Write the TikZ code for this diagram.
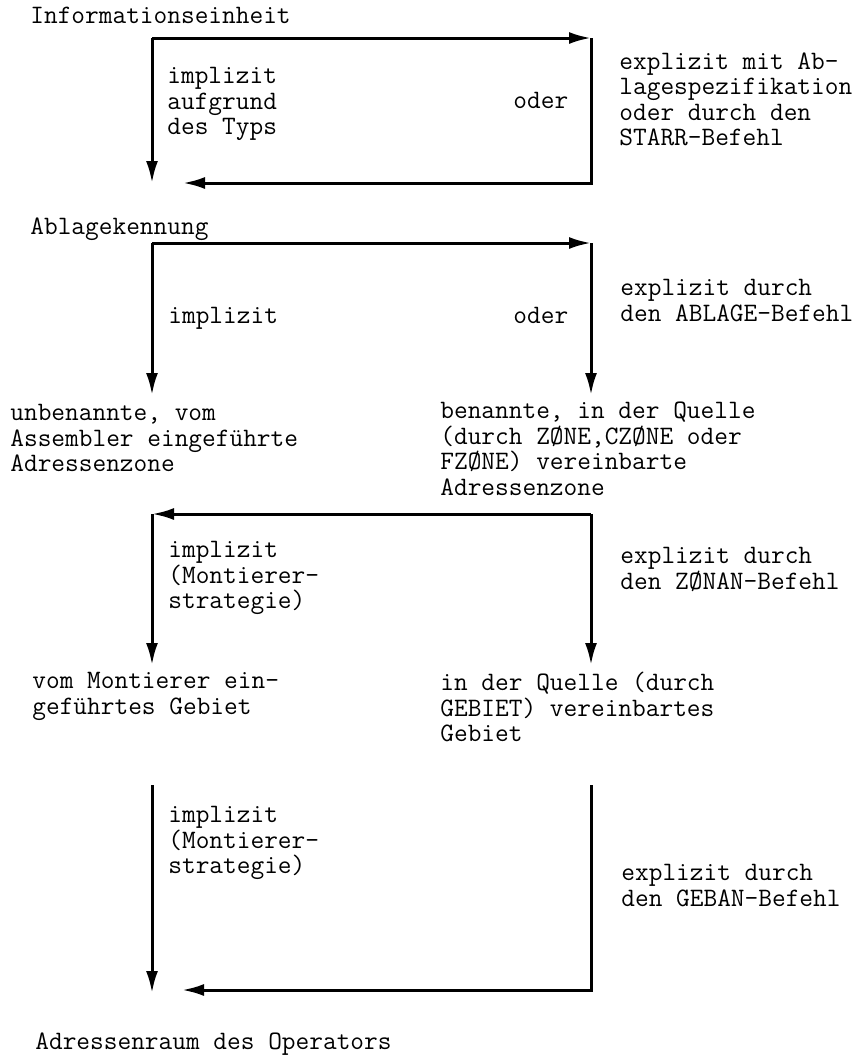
\documentclass[tikz,border=0pt]{standalone}
\usepackage{fontspec}
\usepackage{tikz}
\usetikzlibrary{arrows.meta}

\begin{document}
\begin{tikzpicture}[x=0.5pt, y=-0.5pt,
    txt/.style={anchor=north west, inner sep=0pt, align=left,
        font=\ttfamily\fontsize{13.3}{12.75}\selectfont},
    arr/.style={line width=1.5pt, -{Latex[length=11pt,width=6pt]}}]
    \useasboundingbox (0,0) rectangle (866,1056);

    % Informationseinheit -> Ablagekennung
    \node[txt] (info) at (30,7) {Informationseinheit};
    \coordinate (s1tl) at (152,38);
    \coordinate (s1tr) at (591,38);
    \coordinate (s1br) at (591,183);
    \coordinate (s1l) at (152,183);
    \coordinate (s1b) at (183,183);
    \draw[arr] (s1tl) -- (s1l);
    \draw[arr] (s1tl) -- (s1tr);
    \draw[arr] (s1tr) -- (s1br) -- (s1b);
    \node[txt] (impl1) at (167,67) {implizit\\aufgrund\\des Typs};
    \node[txt] (oder1) at (513,92) {oder};
    \node[txt] (expl1) at (619,52) {explizit mit Ab-\\lagespezifikation\\oder durch den\\STARR-Befehl};

    % Ablagekennung -> Adressenzone
    \node[txt] (ablage) at (30,217) {Ablagekennung};
    \coordinate (s2tl) at (152,243);
    \coordinate (s2tr) at (591,243);
    \coordinate (s2l) at (152,395);
    \coordinate (s2r) at (591,395);
    \draw[arr] (s2tl) -- (s2l);
    \draw[arr] (s2tl) -- (s2tr);
    \draw[arr] (s2tr) -- (s2r);
    \node[txt] (impl2) at (168,307) {implizit};
    \node[txt] (oder2) at (513,307) {oder};
    \node[txt] (expl2) at (620,279) {explizit durch\\den ABLAGE-Befehl};
    \node[txt] (zoneu) at (10,404) {unbenannte, vom\\Assembler eingeführte\\Adressenzone};
    \node[txt] (zoneb) at (440,402) {benannte, in der Quelle\\(durch ZØNE,CZØNE oder\\FZØNE) vereinbarte\\Adressenzone};

    % Adressenzone -> Gebiet
    \coordinate (s3tl) at (152,514);
    \coordinate (s3tr) at (591,514);
    \coordinate (s3l) at (152,665);
    \coordinate (s3r) at (591,665);
    \draw[arr] (s3tr) -- (s3tl);
    \draw[arr] (s3tl) -- (s3l);
    \draw[arr] (s3tr) -- (s3r);
    \node[txt] (impl3) at (168,541) {implizit\\(Montierer-\\strategie)};
    \node[txt] (expl3) at (620,547) {explizit durch\\den ZØNAN-Befehl};
    \node[txt] (gebm) at (32,672) {vom Montierer ein-\\geführtes Gebiet};
    \node[txt] (gebq) at (440,672) {in der Quelle (durch\\GEBIET) vereinbartes\\Gebiet};

    % Gebiet -> Adressenraum
    \coordinate (s4tl) at (152,785);
    \coordinate (s4tr) at (591,785);
    \coordinate (s4l) at (152,993);
    \coordinate (s4br) at (591,990);
    \coordinate (s4b) at (182,990);
    \draw[arr] (s4tl) -- (s4l);
    \draw[arr] (s4tr) -- (s4br) -- (s4b);
    \node[txt] (impl4) at (168,806) {implizit\\(Montierer-\\strategie)};
    \node[txt] (expl4) at (621,864) {explizit durch\\den GEBAN-Befehl};
    \node[txt] (raum) at (35,1032) {Adressenraum des Operators};
\end{tikzpicture}
\end{document}
